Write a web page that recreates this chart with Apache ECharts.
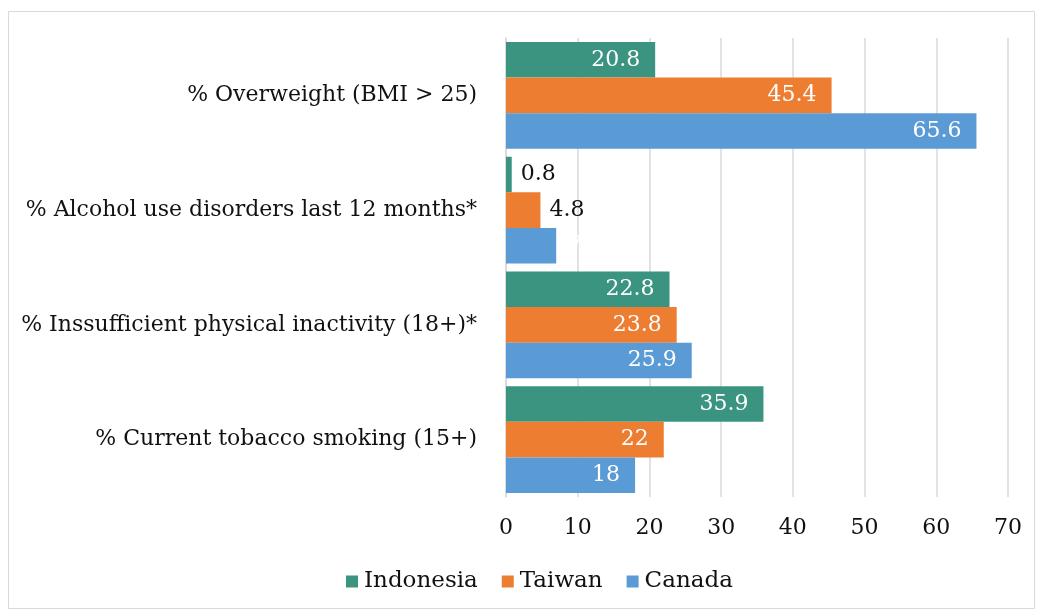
<!DOCTYPE html>
<html>
<head>
<meta charset="utf-8">
<script src="https://cdn.jsdelivr.net/npm/echarts@6/dist/echarts.min.js"></script>
<style>
html,body{margin:0;padding:0;background:#fff;}
#chart{width:1037px;height:611px;}
</style>
</head>
<body>
<div id="chart"></div>
<script>
const categories = [
  "% Current tobacco smoking (15+)",
  "% Inssufficient physical inactivity (18+)*",
  "% Alcohol use disorders last 12 months*",
  "% Overweight (BMI > 25)"
];
const seriesNames = ["Indonesia", "Taiwan", "Canada"];
const indonesia = [35.9, 22.8, 0.8, 20.8];
const taiwan = [22, 23.8, 4.8, 45.4];
const canada = [18, 25.9, 7, 65.6];
const xTicks = [0, 10, 20, 30, 40, 50, 60, 70];

const colors = ["#3a9480", "#ed7d31", "#5b9bd5"];
const FONT = "DejaVu Serif";
const FS = 22;

function labelFor(val) {
  return val < 5 ? {
    show: true, position: "right", distance: 9, color: "#111",
    fontFamily: FONT, fontSize: FS
  } : {
    show: true, position: "insideRight", distance: 15, color: "#fff",
    fontFamily: FONT, fontSize: FS
  };
}

function buildData(arr, sIdx) {
  return arr.map((v) => {
    const d = { value: v, label: labelFor(v) };
    if (sIdx === 2 && v < 10) {
      d.label = { show: true, position: "right", distance: 12, color: "#fff", fontFamily: FONT, fontSize: FS };
    }
    return d;
  });
}

const chart = echarts.init(document.getElementById("chart"), null, { renderer: "canvas" });
chart.setOption({
  animation: false,
  backgroundColor: "#fff",
  color: colors,
  graphic: [{
    type: "rect",
    shape: { x: 8.5, y: 11.5, width: 1026, height: 597 },
    style: { fill: "none", stroke: "#d9d9d9", lineWidth: 1 },
    silent: true, z: -1
  }],
  grid: { left: 506, right: 29, top: 38, bottom: 114, containLabel: false },
  legend: {
    data: seriesNames,
    left: 341, top: 565,
    itemWidth: 12, itemHeight: 12, itemGap: 24,
    icon: "rect",
    textStyle: { fontFamily: FONT, fontSize: 23, color: "#111", padding: [0, 0, 0, 1] }
  },
  xAxis: {
    type: "value", min: 0, max: 70, interval: 10,
    axisLine: { show: false },
    axisTick: { show: false },
    axisLabel: {
      fontFamily: FONT, fontSize: FS, color: "#111", margin: 20,
      formatter: v => xTicks.includes(v) ? String(v) : ""
    },
    splitLine: { show: true, lineStyle: { color: "#d9d9d9", width: 1.5 } }
  },
  yAxis: {
    type: "category", data: categories,
    axisLine: { show: true, lineStyle: { color: "#d9d9d9", width: 1.5 } },
    axisTick: { show: false },
    axisLabel: { fontFamily: FONT, fontSize: FS, color: "#111", margin: 29 }
  },
  series: [
    { name: seriesNames[0], type: "bar", data: buildData(indonesia, 0), barGap: "0%", barCategoryGap: "7%" },
    { name: seriesNames[1], type: "bar", data: buildData(taiwan, 1), barGap: "0%", barCategoryGap: "7%" },
    { name: seriesNames[2], type: "bar", data: buildData(canada, 2), barGap: "0%", barCategoryGap: "7%" }
  ]
});
</script>
</body>
</html>
